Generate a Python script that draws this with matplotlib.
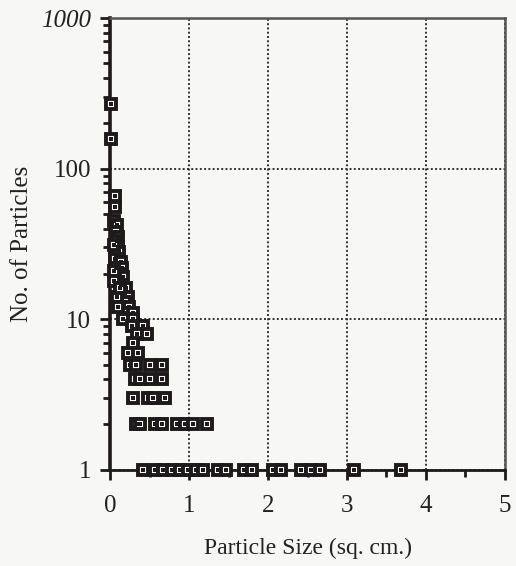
import matplotlib
matplotlib.use('Agg')
from matplotlib import pyplot as plt
from matplotlib.ticker import FixedLocator, NullFormatter, LogLocator

# particle size (sq. cm.) and number of particles
size_big = [0.01, 0.01]
count_big = [270, 157]

size_mid = [0.06, 0.06, 0.04, 0.08, 0.07, 0.09, 0.08, 0.10, 0.11, 0.06, 0.13,
            0.07, 0.15, 0.12, 0.16, 0.14, 0.20, 0.13, 0.22, 0.18, 0.17, 0.24,
            0.20, 0.28, 0.16, 0.28,
            0.05, 0.05, 0.05, 0.08, 0.10, 0.12]
count_mid = [66, 56, 45, 42, 38, 35, 33, 30, 28, 25, 24,
             22, 22, 20, 19, 17, 16, 15, 14, 13, 12, 12,
             11, 11, 10, 10,
             31, 21, 18, 14, 12, 16]

size_low = [0.27, 0.41, 0.34, 0.46, 0.29, 0.22, 0.35,
            0.25, 0.33, 0.50, 0.65,
            0.31, 0.37, 0.50, 0.66,
            0.29, 0.48, 0.54, 0.69]
count_low = [9, 9, 8, 8, 7, 6, 6,
             5, 5, 5, 5,
             4, 4, 4, 4,
             3, 3, 3, 3]

size_two = [0.33, 0.37, 0.56, 0.65, 0.84, 0.94, 1.05, 1.22]
count_two = [2] * len(size_two)

size_one = [0.41, 0.56, 0.67, 0.78, 0.88, 0.98, 1.09, 1.18, 1.36, 1.46,
            1.69, 1.79, 2.06, 2.16, 2.42, 2.54, 2.66, 3.09, 3.68]
count_one = [1] * len(size_one)

x_ticks = [0, 1, 2, 3, 4, 5]
y_ticks = [1, 10, 100, 1000]
y_tick_labels = ['1', '10', '100', '1000']

bg = '#f7f7f5'
ink = '#1c1a1a'

plt.rcParams['font.family'] = ['Liberation Serif', 'DejaVu Serif']

fig = plt.figure(figsize=(5.16, 5.66), dpi=100, facecolor=bg)
ax = fig.add_axes([0.214, 0.170, 0.764, 0.798], facecolor=bg)

xs = size_big + size_mid + size_low + size_two + size_one
ys = count_big + count_mid + count_low + count_two + count_one

# square marker with white hole and a dot in the middle
ax.plot(xs, ys, linestyle='none', marker='s', markersize=7.0,
        markerfacecolor='white', markeredgecolor=ink, markeredgewidth=2.8,
        clip_on=False, zorder=3)
ax.plot(xs, ys, linestyle='none', marker='s', markersize=2.2,
        markerfacecolor=ink, markeredgewidth=0, clip_on=False, zorder=4)

ax.set_yscale('log')
ax.set_xlim(0, 5)
ax.set_ylim(1, 1000)

ax.xaxis.set_major_locator(FixedLocator(x_ticks))
ax.xaxis.set_minor_locator(FixedLocator([0.5, 1.5, 2.5, 3.5, 4.5]))
ax.yaxis.set_major_locator(FixedLocator(y_ticks))
ax.yaxis.set_minor_locator(LogLocator(base=10, subs=range(2, 10)))
ax.yaxis.set_minor_formatter(NullFormatter())
ax.set_yticklabels(y_tick_labels)
ax.get_yticklabels()[-1].set_style('italic')

ax.grid(True, which='major', color='#333333', linestyle=(0, (1, 1.2)), linewidth=1.4)

for side in ('top', 'right'):
    ax.spines[side].set_color('#555555')
    ax.spines[side].set_linewidth(1.8)
ax.spines['left'].set_color(ink)
ax.spines['left'].set_linewidth(2.6)
ax.spines['bottom'].set_color(ink)
ax.spines['bottom'].set_linewidth(2.0)

ax.tick_params(axis='both', which='major', direction='out', length=7, width=2,
               color=ink, labelsize=18, labelcolor='#222222')
ax.tick_params(axis='x', which='major', pad=11)
ax.tick_params(axis='y', which='major', pad=7)
ax.tick_params(axis='both', which='minor', direction='out', length=5, width=2, color=ink)

ax.set_xlabel('Particle Size (sq. cm.)', fontsize=17, color='#222222', labelpad=15)
ax.set_ylabel('No. of Particles', fontsize=18, color='#222222', labelpad=6)

fig.savefig('out.png', dpi=100, facecolor=bg)
plt.close(fig)
